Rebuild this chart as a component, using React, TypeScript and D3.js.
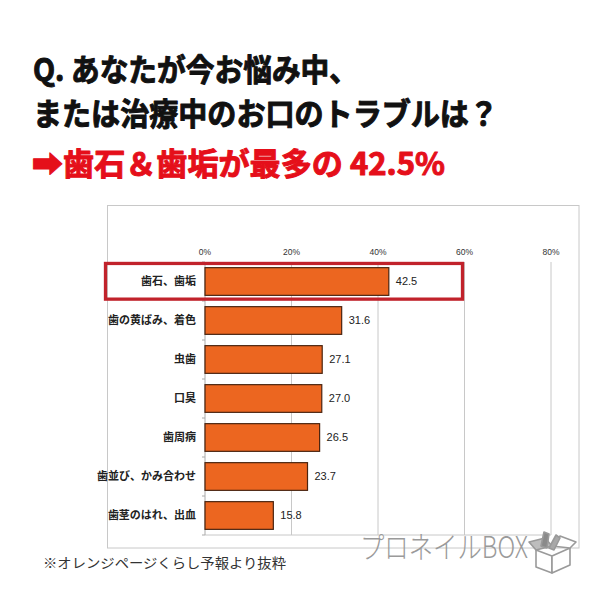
import * as d3 from "d3";

const categories = [
  "歯石、歯垢",
  "歯の黄ばみ、着色",
  "虫歯",
  "口臭",
  "歯周病",
  "歯並び、かみ合わせ",
  "歯茎のはれ、出血",
];
const values = [42.5, 31.6, 27.1, 27.0, 26.5, 23.7, 15.8];
const tickValues = [0, 20, 40, 60, 80];

const JP = "'Noto Sans CJK JP', 'Noto Sans', sans-serif";
const NARROW = "'Liberation Sans Narrow', 'Liberation Sans', Arial, sans-serif";

export default function App() {
  const width = 600;
  const height = 600;
  const plot = { left: 205, right: 551, top: 262, bottom: 535 };

  const x = d3.scaleLinear().domain([0, 80]).range([plot.left, plot.right]);
  const y = d3
    .scaleBand<string>()
    .domain(categories)
    .range([plot.top, plot.bottom])
    .paddingInner(0.29)
    .paddingOuter(0.145);

  const bandEdges = categories.map((_, i) => plot.top + y.step() * i).concat([plot.bottom]);
  const top = categories[d3.maxIndex(values)];

  return (
    <div style={{ width, height, margin: -8, background: "#fff" }}>
      <svg width={width} height={height} viewBox={`0 0 ${width} ${height}`} style={{ display: "block" }}>
        <rect width={width} height={height} fill="#fff" />

        {/* headline, stroked a little to get the heavy look */}
        <g fontFamily={JP} fontWeight={700} fontSize={31} strokeWidth={1} strokeLinejoin="round">
          <text x={33} y={81} fill="#111" stroke="#111" textLength={325} lengthAdjust="spacingAndGlyphs">
            Q. あなたが今お悩み中、
          </text>
          <text x={33} y={125} fill="#111" stroke="#111" textLength={465} lengthAdjust="spacingAndGlyphs">
            または治療中のお口のトラブルは？
          </text>
          <text x={32} y={175} fill="#e50f1a" stroke="#e50f1a" textLength={413} lengthAdjust="spacingAndGlyphs">
            ➡歯石＆歯垢が最多の 42.5%
          </text>
        </g>

        {/* chart frame */}
        <rect x={107.5} y={205.5} width={471.5} height={342.5} fill="none" stroke="#c8c8c8" strokeWidth={1} />

        {/* gridlines */}
        {tickValues.slice(1).map((t) => (
          <line key={t} x1={x(t)} x2={x(t)} y1={plot.top} y2={plot.bottom} stroke="#c8c8c8" strokeWidth={1} />
        ))}
        <line x1={plot.left} x2={plot.right} y1={plot.bottom} y2={plot.bottom} stroke="#c8c8c8" strokeWidth={1} />

        {/* axis labels */}
        {tickValues.map((t) => (
          <text
            key={t}
            x={x(t)}
            y={255}
            textAnchor="middle"
            fontFamily={NARROW}
            fontSize={8.5}
            fill="#333"
          >
            {t}%
          </text>
        ))}

        {/* category axis */}
        <line x1={plot.left} x2={plot.left} y1={plot.top} y2={plot.bottom} stroke="#aaa" strokeWidth={1} />
        {bandEdges.map((e, i) => (
          <line key={i} x1={plot.left - 3} x2={plot.left} y1={e} y2={e} stroke="#aaa" strokeWidth={1} />
        ))}

        {/* bars */}
        {categories.map((c, i) => (
          <g key={c}>
            <rect
              x={x(0)}
              y={y(c)!}
              width={x(values[i]) - x(0)}
              height={y.bandwidth()}
              fill="#ec6620"
              stroke="#4a2410"
              strokeWidth={1.2}
            />
            <text
              x={plot.left - 9}
              y={y(c)! + y.bandwidth() / 2}
              dy="0.36em"
              textAnchor="end"
              fontFamily={JP}
              fontWeight={700}
              fontSize={11}
              fill="#222"
            >
              {c}
            </text>
            <text
              x={x(values[i]) + 7}
              y={y(c)! + y.bandwidth() / 2}
              dy="0.36em"
              fontFamily={NARROW}
              fontSize={11}
              fill="#222"
            >
              {values[i].toFixed(1)}
            </text>
          </g>
        ))}

        {/* highlight of the top item */}
        <rect
          x={105.5}
          y={y(top)! - 4.2}
          width={357}
          height={y.bandwidth() + 8}
          fill="none"
          stroke="#c1222b"
          strokeWidth={3.3}
        />

        {/* footer */}
        <text x={43} y={568} fontFamily={JP} fontSize={13.5} fill="#333" textLength={243} lengthAdjust="spacingAndGlyphs">
          ※オレンジページくらし予報より抜粋
        </text>
        <text x={360} y={558} fontFamily={JP} fontWeight={300} fontSize={30} fill="#9a9a9a" textLength={168} lengthAdjust="spacingAndGlyphs">
          プロネイルBOX
        </text>
        {/* box logo */}
        <g stroke="#9a9a9a" strokeWidth={1.6} fill="#fff" strokeLinejoin="round">
          <path d="M536 550 L552 556 L552 573 L536 567 Z" />
          <path d="M552 556 L570 548 L570 565 L552 573 Z" />
          <path d="M536 550 L529 542 L545 538 L552 546 Z" fill="#bdbdbd" />
          <path d="M552 546 L560 536 L576 542 L570 548 Z" />
          <path d="M541 546 L544 532 L549 534 L547 548 Z" fill="#8a8a8a" />
          <path d="M549 548 L556 535 L560 538 L554 550 Z" fill="#a8a8a8" />
        </g>
      </svg>
    </div>
  );
}
